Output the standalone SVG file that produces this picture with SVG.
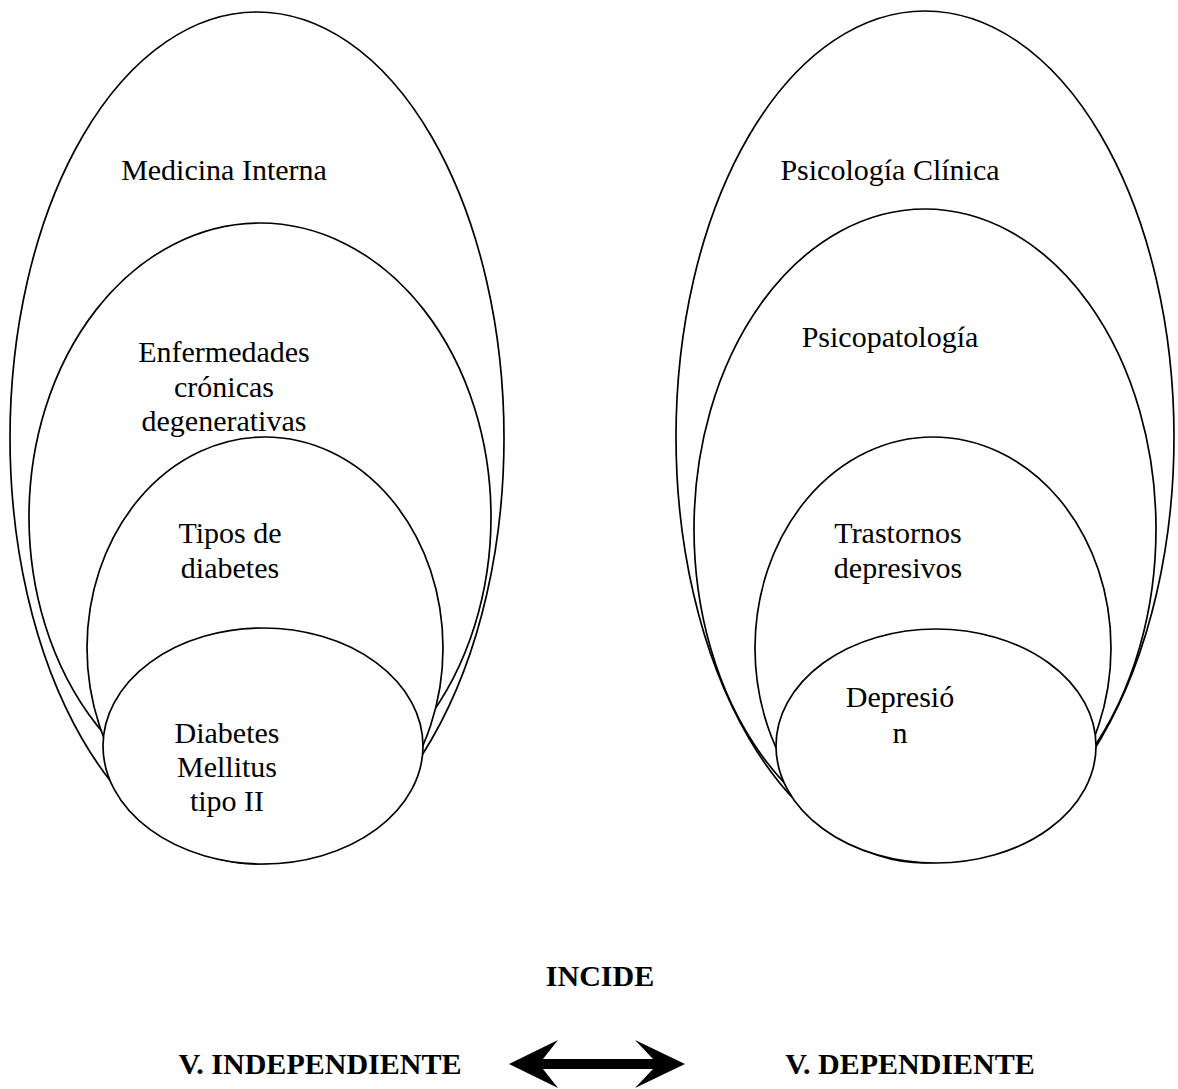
<svg xmlns="http://www.w3.org/2000/svg" width="1178" height="1089" viewBox="0 0 1178 1089">
<style>
.e{fill:#fff;stroke:#000;stroke-width:1.7}
.t{font-family:"Liberation Serif","Times New Roman",serif;font-size:30px;fill:#000;text-anchor:middle}
.b{font-family:"Liberation Serif","Times New Roman",serif;font-size:30px;font-weight:bold;fill:#000;text-anchor:middle}
</style>
<rect width="1178" height="1089" fill="#fff"/>
<g id="medicina-interna">
<ellipse class="e" cx="257" cy="438" rx="247" ry="426"/>
<text class="t" x="224" y="180">Medicina Interna</text>
</g>
<g id="enfermedades-cronicas">
<ellipse class="e" cx="260" cy="517" rx="231" ry="294"/>
<text class="t" x="224" y="362">Enfermedades</text>
<text class="t" x="224" y="397">crónicas</text>
<text class="t" x="224" y="431">degenerativas</text>
</g>
<g id="tipos-diabetes">
<ellipse class="e" cx="265" cy="648" rx="178" ry="211"/>
<text class="t" x="230" y="543">Tipos de</text>
<text class="t" x="230" y="578">diabetes</text>
</g>
<g id="diabetes-mellitus">
<ellipse class="e" cx="263" cy="746" rx="160" ry="118"/>
<text class="t" x="227" y="743">Diabetes</text>
<text class="t" x="227" y="777">Mellitus</text>
<text class="t" x="227" y="811">tipo II</text>
</g>
<g id="psicologia-clinica">
<ellipse class="e" cx="925" cy="437" rx="249" ry="426"/>
<text class="t" x="890" y="180">Psicología Clínica</text>
</g>
<g id="psicopatologia">
<ellipse class="e" cx="925" cy="529" rx="231" ry="320"/>
<text class="t" x="890" y="347">Psicopatología</text>
</g>
<g id="trastornos-depresivos">
<ellipse class="e" cx="933" cy="648" rx="178" ry="211"/>
<text class="t" x="898" y="543">Trastornos</text>
<text class="t" x="898" y="578">depresivos</text>
</g>
<g id="depresion">
<ellipse class="e" cx="936" cy="746" rx="160" ry="117"/>
<text class="t" x="900" y="707">Depresió</text>
<text class="t" x="900" y="743">n</text>
</g>
<g id="incide">
<text class="b" x="600" y="986">INCIDE</text>
</g>
<g id="v-independiente">
<text class="b" x="320" y="1074">V. INDEPENDIENTE</text>
</g>
<g id="v-dependiente">
<text class="b" x="910" y="1074">V. DEPENDIENTE</text>
</g>
<g id="connectors">
<path d="M509,1064 L558,1040 L543,1059 L653,1059 L635,1040 L685,1064 L635,1088 L653,1069 L543,1069 L558,1088 Z" fill="#000"/>
</g>
</svg>
